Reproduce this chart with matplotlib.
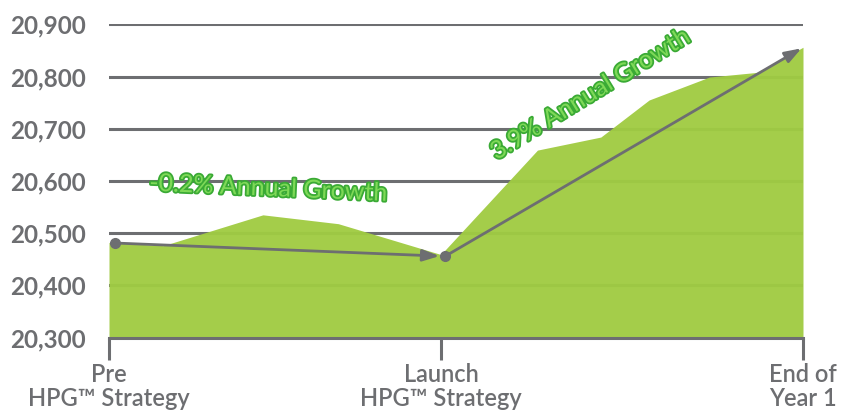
import matplotlib
matplotlib.use("Agg")
import matplotlib.pyplot as plt
import matplotlib.patheffects as pe

plt.rcParams['font.family'] = ['Lato', 'DejaVu Sans']

# months since start (Pre = 0, Launch = 11, End of Year 1 = 23)
months = [0, 1.8, 5.1, 7.6, 11, 14.2, 16.3, 17.9, 19.9, 21.5, 23]
members = [20482, 20476, 20535, 20518, 20459, 20659, 20684, 20755, 20799, 20808, 20856]

tick_pos = [0, 11, 23]
tick_labels = ["Pre\nHPG\u2122 Strategy", "Launch\nHPG\u2122 Strategy", "End of\nYear 1"]
y_ticks = [20300, 20400, 20500, 20600, 20700, 20800, 20900]

# trend arrows: (x0, y0, x1, y1)
trend1 = (0.19, 20481, 10.95, 20456)
trend2 = (11.15, 20456, 22.95, 20854)
trend_labels = ["-0.2% Annual Growth", "3.9% Annual Growth"]

gray = "#6d6e71"
green = "#a0cb42"

fig = plt.figure(figsize=(8.55, 4.11), dpi=100)
ax = fig.add_axes([109/855, 1-337.5/411, 694/855, (337.5-24.3)/411])

for y in y_ticks[1:]:
    ax.axhline(y, color=gray, lw=2.2, zorder=1)
ax.fill_between(months, 20300, members, color=green, alpha=0.96, lw=0, zorder=2)

ax.set_xlim(0, 23)
ax.set_ylim(20300, 20900)
ax.set_yticks(y_ticks)
ax.set_yticklabels([f"{v:,}" for v in y_ticks], color=gray, fontsize=17.5, fontweight='bold')
ax.set_xticks(tick_pos)
ax.set_xticklabels(tick_labels, color=gray, fontsize=17, fontweight='semibold', linespacing=1.1)
ax.tick_params(axis='y', length=0, pad=17)
ax.tick_params(axis='x', length=16, width=2.2, color=gray, pad=2)
for s in ['top', 'right', 'left']:
    ax.spines[s].set_visible(False)
ax.spines['bottom'].set_color(gray)
ax.spines['bottom'].set_linewidth(2.2)
ax.spines['bottom'].set_zorder(5)

for t in (trend1, trend2):
    x0, y0, x1, y1 = t
    ax.annotate("", xy=(x1, y1), xytext=(x0, y0),
                arrowprops=dict(arrowstyle="-|>,head_length=1.0,head_width=0.35",
                                color=gray, lw=2, shrinkA=0, shrinkB=0), zorder=4)
    ax.plot([x0], [y0], 'o', color=gray, ms=7, zorder=5)

fx = [pe.withStroke(linewidth=2.6, foreground="#3aaa35")]
ax.text(5.27, 20586, trend_labels[0], color="#7ed957", fontsize=18, rotation=-2.5,
        ha='center', va='center', path_effects=fx, zorder=6)
ax.text(15.94, 20766, trend_labels[1], color="#7ed957", fontsize=18, rotation=31.5,
        ha='center', va='center', path_effects=fx, zorder=6, rotation_mode='anchor')

fig.savefig("out.png", dpi=100)
